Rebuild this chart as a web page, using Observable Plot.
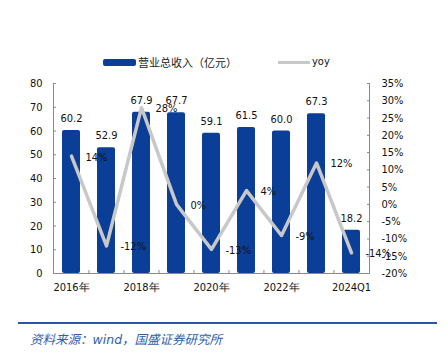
<!DOCTYPE html>
<html><head><meta charset="utf-8">
<script src="https://cdn.jsdelivr.net/npm/d3@7"></script>
<script src="https://cdn.jsdelivr.net/npm/@observablehq/plot@0.6"></script>
<style>
body{margin:0;background:#fff;width:447px;height:353px;overflow:hidden;font-family:"DejaVu Sans Condensed","DejaVu Sans",sans-serif;}
#legend{position:relative;height:72px;}
#legend .it{position:absolute;}
#footer{position:relative;height:50px;}
</style></head><body>
<div id="legend">
  <div class="it" style="left:103px;top:59px;width:33px;height:7px;background:#0B3F97;border-radius:2px"></div>
  <div class="it" style="left:138px;top:54px;font:11px 'Noto Sans CJK SC',sans-serif;color:#222;line-height:16px">营业总收入（亿元）</div>
  <div class="it" style="left:278px;top:61px;width:32px;height:3px;background:#c8c8c8"></div>
  <div class="it" style="left:312px;top:54px;font-size:11px;color:#111;line-height:16px">yoy</div>
</div>
<div id="chart"></div>
<div id="footer">
  <div style="position:absolute;left:18px;top:19px;width:419px;height:2px;background:#2b56a3"></div>
  <div style="position:absolute;left:30px;top:27px;font:italic 12.5px 'Noto Sans CJK SC',sans-serif;color:#2f5eaf;line-height:18px">资料来源：<span style="font-family:'DejaVu Sans',sans-serif">wind</span>，国盛证券研究所</div>
</div>
<script>
const categories = ["2016年","2017年","2018年","2019年","2020年","2021年","2022年","2023年","2024Q1"];
const revenue = [60.2, 52.9, 67.9, 67.7, 59.1, 61.5, 60.0, 67.3, 18.2];
const yoy = [14, -12, 28, 0, -13, 4, -9, 12, -14];
const shownTicks = ["2016年","2018年","2020年","2022年","2024Q1"];
const leftTicks = [0, 10, 20, 30, 40, 50, 60, 70, 80];
const rightTicks = [-20, -15, -10, -5, 0, 5, 10, 15, 20, 25, 30, 35];

const data = categories.map((c, i) => ({cat: c, rev: revenue[i], yoy: yoy[i]}));
const W = 447, ML = 53, MR = 78;
const RMIN = -20, RMAX = 35, LMAX = 80;
const toLeft = v => (v - RMIN) * LMAX / (RMAX - RMIN);
const fromLeft = v => v * (RMAX - RMIN) / LMAX + RMIN;
const step = (W - ML - MR) / categories.length;
const BLUE = "#0B3F97", AX = "#8a8a8a", GRAY = "#c8c8c8";
const FONT = "'DejaVu Sans Condensed','DejaVu Sans',sans-serif";

const chart = Plot.plot({
  width: W, height: 231,
  marginTop: 11, marginBottom: 30, marginLeft: ML, marginRight: MR,
  style: {fontFamily: FONT, fontSize: "11px", color: "#111", background: "transparent"},
  x: {domain: categories, paddingInner: 0.5, paddingOuter: 0.25, axis: null, label: null},
  y: {domain: [0, LMAX], axis: null, label: null},
  marks: [
    Plot.barY(data, {x: "cat", y: "rev", fill: BLUE, rx: 2}),
    Plot.frame({anchor: "left", stroke: AX}),
    Plot.frame({anchor: "right", stroke: AX}),
    Plot.ruleY([0], {stroke: AX}),
    Plot.ruleX(categories.slice(1), {x: d => d, y1: 0, y2: 0, insetTop: -3, dx: -step / 2, stroke: AX}),
    Plot.axisY(leftTicks, {anchor: "left", label: null, tickSize: -3, tickPadding: 14, stroke: AX, fill: "#111"}),
    Plot.axisY(rightTicks.map(toLeft), {anchor: "right", label: null, tickSize: -3, tickPadding: 15, stroke: AX, fill: "#111",
      tickFormat: d => Math.round(fromLeft(d)) + "%"}),
    Plot.axisX(shownTicks, {anchor: "bottom", label: null, tickSize: 0, tickPadding: 10, fill: "#111"}),
    Plot.lineY(data, {x: "cat", y: d => toLeft(d.yoy), stroke: GRAY, strokeWidth: 3.5}),
    Plot.text(data, {x: "cat", y: "rev", text: d => d.rev.toFixed(1), dy: -12, fill: "#111"}),
    Plot.text(data, {x: "cat", y: d => toLeft(d.yoy), text: d => d.yoy + "%", textAnchor: "start", dx: 14, dy: 1, fill: "#111"})
  ]
});
document.getElementById("chart").appendChild(chart);
</script>
</body></html>
